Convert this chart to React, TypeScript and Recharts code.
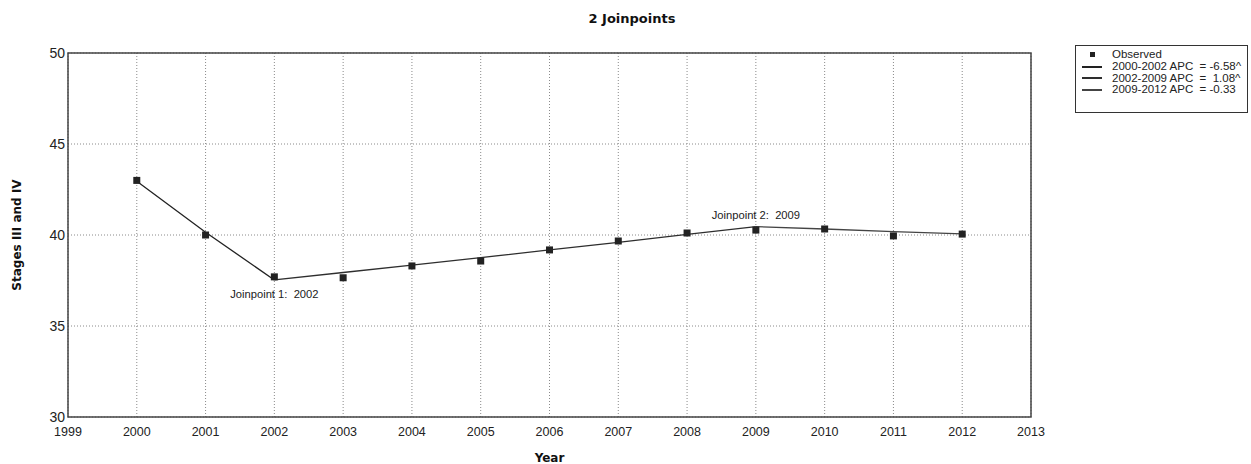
import React from "react";
import {
  CartesianGrid,
  Line,
  LineChart,
  ReferenceArea,
  ReferenceDot,
  XAxis,
  YAxis,
} from "recharts";

const years = [2000, 2001, 2002, 2003, 2004, 2005, 2006, 2007, 2008, 2009, 2010, 2011, 2012];
const observed = [43.0, 40.0, 37.7, 37.65, 38.3, 38.57, 39.18, 39.67, 40.11, 40.27, 40.33, 39.95, 40.05];
const seg1 = [42.95, 40.15, 37.53, null, null, null, null, null, null, null, null, null, null];
const seg2 = [null, null, 37.53, 37.94, 38.35, 38.76, 39.18, 39.6, 40.03, 40.46, null, null, null];
const seg3 = [null, null, null, null, null, null, null, null, null, 40.46, 40.33, 40.19, 40.06];

const xTicks = [1999, 2000, 2001, 2002, 2003, 2004, 2005, 2006, 2007, 2008, 2009, 2010, 2011, 2012, 2013];
const yTicks = [30, 35, 40, 45, 50];

const segmentNames = ["2000-2002 APC  = -6.58^", "2002-2009 APC  =  1.08^", "2009-2012 APC  = -0.33"];
const segmentColors = ["#222222", "#2e2e2e", "#444444"];

const joinpoints = [
  { year: 2002, value: 37.53, text: "Joinpoint 1:\u00a0 2002", pos: "bottom" as const },
  { year: 2009, value: 40.46, text: "Joinpoint 2:\u00a0 2009", pos: "top" as const },
];

const data = years.map((year, i) => ({
  year,
  observed: observed[i],
  seg1: seg1[i],
  seg2: seg2[i],
  seg3: seg3[i],
}));

const sans = "Liberation Sans, Arial, sans-serif";
const boldFont = "DejaVu Sans, Verdana, sans-serif";
const axisFont = { fontFamily: sans, fontSize: 12.5, fill: "#222" };

function SquareDot(props: any) {
  const { cx, cy } = props;
  if (cx == null || cy == null) return null;
  return <rect x={cx - 3.5} y={cy - 3.5} width={7} height={7} fill="#222" />;
}

function LegendBox() {
  return (
    <div
      style={{
        position: "absolute",
        left: 1075,
        top: 45,
        border: "1px solid #333",
        background: "#fff",
        width: 173,
        height: 68,
        boxSizing: "border-box",
        padding: "3px 0 0 6px",
        fontFamily: sans,
        fontSize: 11.5,
        color: "#222",
        lineHeight: "11.8px",
      }}
    >
      <div style={{ display: "flex", alignItems: "center" }}>
        <span style={{ width: 20, display: "flex", justifyContent: "center" }}>
          <span style={{ width: 5, height: 5, background: "#222", display: "inline-block" }} />
        </span>
        <span style={{ marginLeft: 10 }}>Observed</span>
      </div>
      {segmentNames.map((name, i) => (
        <div key={name} style={{ display: "flex", alignItems: "center", whiteSpace: "pre" }}>
          <span style={{ width: 20, height: 2, background: segmentColors[i], display: "inline-block" }} />
          <span style={{ marginLeft: 10 }}>{name}</span>
        </div>
      ))}
    </div>
  );
}

export default function App() {
  return (
    <div style={{ position: "absolute", left: 0, top: 0, width: 1251, height: 464, background: "#fff" }}>
      <LineChart width={1251} height={464} data={data} margin={{ top: 53, right: 220, bottom: 0, left: 0 }}>
        <text x={632} y={23} textAnchor="middle" style={{ fontFamily: boldFont, fontSize: 13, fontWeight: "bold", fill: "#111" }}>
          2 Joinpoints
        </text>
        <CartesianGrid stroke="#8a8a8a" strokeDasharray="1 2" />
        <XAxis
          dataKey="year"
          type="number"
          domain={[1999, 2013]}
          ticks={xTicks}
          interval={0}
          height={47}
          tickLine={false}
          axisLine={false}
          tick={axisFont}
          tickMargin={4}
          label={{ value: "Year", position: "insideBottom", offset: 2, style: { fontFamily: boldFont, fontSize: 12, fontWeight: "bold", fill: "#111" } }}
        />
        <YAxis
          type="number"
          domain={[30, 50]}
          ticks={yTicks}
          width={68}
          tickLine={false}
          axisLine={false}
          tickSize={0}
          tick={{ ...axisFont, fontSize: 14 }}
          tickMargin={3}
          label={{ value: "Stages III and IV", angle: -90, position: "insideLeft", offset: 17, style: { fontFamily: boldFont, fontSize: 12, fontWeight: "bold", fill: "#111", textAnchor: "middle" } }}
        />
        <ReferenceArea x1={1999} x2={2013} y1={30} y2={50} fill="none" stroke="#444" strokeWidth={1.5} ifOverflow="visible" />
        <Line dataKey="seg1" stroke={segmentColors[0]} strokeWidth={1.3} dot={false} activeDot={false} isAnimationActive={false} connectNulls={false} />
        <Line dataKey="seg2" stroke={segmentColors[1]} strokeWidth={1.3} dot={false} activeDot={false} isAnimationActive={false} connectNulls={false} />
        <Line dataKey="seg3" stroke={segmentColors[2]} strokeWidth={1.3} dot={false} activeDot={false} isAnimationActive={false} connectNulls={false} />
        <Line dataKey="observed" stroke="none" dot={<SquareDot />} activeDot={false} isAnimationActive={false} />
        {joinpoints.map((jp) => (
          <ReferenceDot
            key={jp.text}
            x={jp.year}
            y={jp.value}
            r={0}
            fill="none"
            stroke="none"
            label={{ value: jp.text, position: jp.pos, offset: jp.pos === "bottom" ? 10 : 8, style: { fontFamily: sans, fontSize: 11.2, fill: "#222" } }}
          />
        ))}
      </LineChart>
      <LegendBox />
    </div>
  );
}
